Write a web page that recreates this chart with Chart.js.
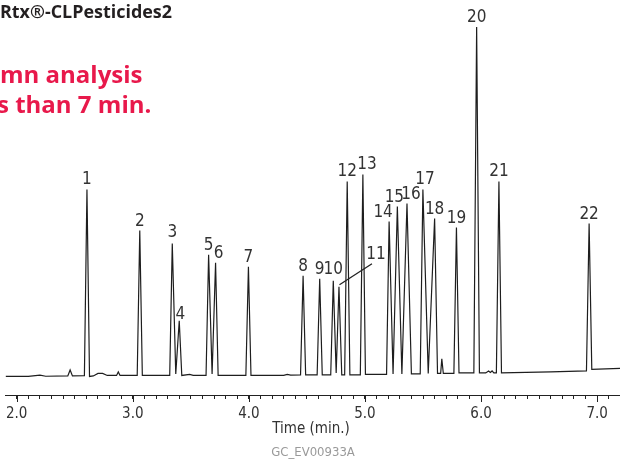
<!DOCTYPE html>
<html>
<head>
<meta charset="utf-8">
<script src="https://cdn.jsdelivr.net/npm/chart.js@4.4.1/dist/chart.umd.min.js"></script>
<style>
  html, body { margin: 0; padding: 0; background: #fff; }
</style>
</head>
<body>
<canvas id="myChart" width="620" height="459"></canvas>
<script>
// chromatogram trace: time (min) and detector signal (arbitrary units)
const traceTime = [
  1.88, 2.10, 2.20, 2.25, 2.44, 2.46, 2.48, 2.583, 2.605, 2.627, 2.66, 2.70, 2.74, 2.78,
  2.86, 2.875, 2.89, 3.038, 3.06, 3.082, 3.318, 3.34, 3.37, 3.40, 3.422, 3.49, 3.52,
  3.631, 3.653, 3.683, 3.713, 3.735, 3.974, 3.996, 4.018, 4.30, 4.33, 4.36,
  4.445, 4.467, 4.489, 4.588, 4.61, 4.632, 4.705, 4.727, 4.752, 4.776, 4.80,
  4.825, 4.847, 4.87, 4.96, 4.982, 5.004, 5.186, 5.208, 5.242, 5.279, 5.318, 5.362, 5.40,
  5.476, 5.499, 5.545, 5.60, 5.625, 5.652, 5.662, 5.675, 5.766, 5.788, 5.81,
  5.938, 5.962, 5.986, 6.04, 6.065, 6.08, 6.095, 6.11, 6.132, 6.154, 6.176,
  6.60, 6.908, 6.931, 6.954, 7.20
];
const traceSignal = [
  -0.5, -0.5, 0.8, -0.3, 0, 6, 0, 0.3, 186, -0.5, 0, 2.5, 2.5, 0.5,
  0.5, 4, 0.5, 0.5, 145, 0.5, 0.5, 132, 2, 55, 0.5, 1.5, 0.5,
  0.5, 121, 2, 113, 0.5, 0.5, 109, 0.5, 0.5, 1.5, 0.8,
  1, 100, 1, 1, 97, 1, 1, 95, 3, 89, 1,
  1, 194, 1, 1, 201, 1.5, 1.5, 154, 2, 169, 2, 172, 2,
  2, 186, 2.5, 157, 2.5, 2.5, 17, 2.5, 2.5, 148, 3,
  3, 348, 3, 3, 5, 3.5, 5, 3, 3, 194, 3,
  4, 5, 152, 6.5, 7.5
];

// numbered peaks
const peakNames = ['1','2','3','4','5','6','7','8','9','10','11','12','13','14','15','16','17','18','19','20','21','22'];
const peakTimes = [2.605, 3.06, 3.34, 3.40, 3.653, 3.713, 3.996, 4.467, 4.61, 4.727, 4.776, 4.847, 4.982,
                   5.208, 5.279, 5.362, 5.499, 5.60, 5.788, 5.962, 6.154, 6.931];
const peakHeights = [186, 145, 132, 55, 121, 113, 109, 100, 97, 95, 89, 194, 201,
                     154, 169, 172, 186, 157, 148, 348, 194, 152];

const tickLabels = ['2.0', '3.0', '4.0', '5.0', '6.0', '7.0'];

const narrow = "'Liberation Sans Narrow', 'DejaVu Sans Condensed', sans-serif";

// small nudges so the numbers sit like in the original figure
const labelNudge = {
  '3': {dy: -2}, '4': {dx: 1, dy: 3}, '6': {dx: 3}, '10': {dy: -2},
  '11': {dx: 37, dy: -23, leader: true}, '13': {dx: 4}, '14': {dx: -6},
  '15': {dx: -3}, '16': {dx: 4}, '17': {dx: 2}
};

const annotate = {
  id: 'annotate',
  afterDraw(chart) {
    const {ctx, chartArea, scales: {x, y}} = chart;
    ctx.save();

    // longer major ticks
    ctx.strokeStyle = '#222';
    ctx.lineWidth = 1;
    for (let t = 2; t <= 7; t++) {
      const px = Math.round(x.getPixelForValue(t)) + 0.5;
      ctx.beginPath();
      ctx.moveTo(px, chartArea.bottom);
      ctx.lineTo(px, chartArea.bottom + 7);
      ctx.stroke();
    }

    // peak numbers
    ctx.font = '17px ' + narrow;
    ctx.fillStyle = '#333';
    ctx.textAlign = 'center';
    ctx.textBaseline = 'alphabetic';
    peakNames.forEach((name, i) => {
      const n = labelNudge[name] || {};
      const px = x.getPixelForValue(peakTimes[i]);
      const py = y.getPixelForValue(peakHeights[i]);
      const lx = px + (n.dx || 0);
      const ly = py - 5 + (n.dy || 0);
      ctx.fillText(name, lx, ly);
      if (n.leader) {
        ctx.beginPath();
        ctx.lineWidth = 1.3;
        ctx.moveTo(px + 0.5, py - 2);
        ctx.lineTo(lx - 4, ly + 5);
        ctx.stroke();
      }
    });

    // axis title and figure code
    ctx.font = '15px ' + narrow;
    ctx.fillStyle = '#333';
    ctx.fillText('Time (min.)', 311, 433);
    ctx.font = '13px ' + narrow;
    ctx.fillStyle = '#9a9a9a';
    ctx.fillText('GC_EV00933A', 313, 456);

    // headline texts (cropped at the left edge in the original)
    ctx.textAlign = 'left';
    ctx.font = "bold 18px 'Open Sans', sans-serif";
    ctx.fillStyle = '#231f20';
    ctx.fillText('Rtx®-CLPesticides2', 0, 18, 172);
    ctx.font = "bold 24px 'Open Sans', sans-serif";
    ctx.fillStyle = '#e8194b';
    ctx.fillText('mn analysis', 0, 83, 143);
    ctx.fillText('s than 7 min.', -3, 113, 160);

    ctx.restore();
  }
};

const ctx = document.getElementById('myChart').getContext('2d');
const myChart = new Chart(ctx, {
  type: 'line',
  data: {
    datasets: [{
      data: traceTime.map((t, i) => ({x: t, y: traceSignal[i]})),
      borderColor: '#1e1e1e',
      borderWidth: 1.2,
      pointRadius: 0,
      tension: 0,
      fill: false
    }]
  },
  options: {
    responsive: false,
    animation: false,
    layout: {padding: {left: -3}},
    plugins: {
      legend: {display: false},
      tooltip: {enabled: false}
    },
    scales: {
      x: {
        type: 'linear',
        min: 1.906,
        max: 7.197,
        afterFit(scale) { scale.height = 64; },
        border: {display: true, color: '#222', width: 1},
        grid: {
          drawOnChartArea: false,
          drawTicks: true,
          tickLength: 4,
          tickColor: '#222'
        },
        ticks: {
          stepSize: 0.1,
          includeBounds: false,
          autoSkip: false,
          maxRotation: 0,
          padding: 6,
          color: '#333',
          font: {family: narrow, size: 15},
          callback: function (value) {
            const r = Math.round(value);
            if (Math.abs(value - r) < 1e-6) return tickLabels[r - 2];
            return '';
          }
        }
      },
      y: {
        display: false,
        min: -19,
        max: 375
      }
    }
  },
  plugins: [annotate]
});
</script>
</body>
</html>
